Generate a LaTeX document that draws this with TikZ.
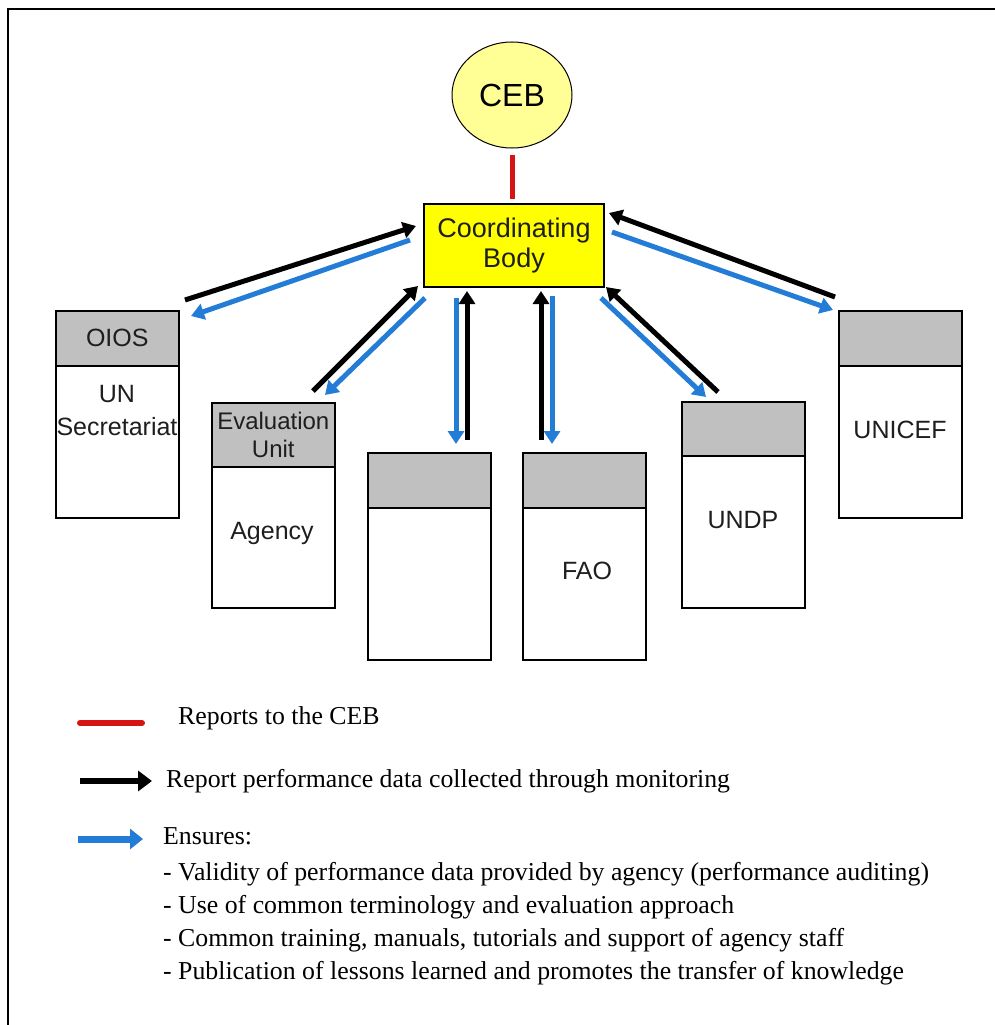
\documentclass[tikz,border=0pt]{standalone}
\usepackage{fontspec}
\setmainfont{Liberation Serif}
\newfontfamily\arial{Liberation Sans}
\usetikzlibrary{arrows.meta,shapes.geometric}
\definecolor{cbyellow}{RGB}{255,255,0}
\definecolor{cebyellow}{RGB}{255,255,150}
\definecolor{hdrgray}{RGB}{192,192,192}
\definecolor{arrblue}{RGB}{35,125,215}
\definecolor{redline}{RGB}{215,20,20}
\definecolor{lbl}{RGB}{30,30,30}
\tikzset{
  hdr/.style={draw=black, line width=1.6pt, fill=hdrgray, rectangle, anchor=north west, inner sep=0pt, minimum width=123pt, text=lbl, align=center, font=\arial\fontsize{25}{28}\selectfont},
  bodybox/.style={draw=black, line width=1.6pt, fill=white, rectangle, anchor=north west, inner sep=0pt, minimum width=123pt},
  lab/.style={text=lbl, align=center, inner sep=0pt, font=\arial\fontsize{25}{33}\selectfont},
  blk/.style={draw=black, line width=5pt, -{Triangle[length=13pt,width=16pt]}},
  blu/.style={draw=arrblue, line width=5pt, -{Triangle[length=13pt,width=16pt]}},
  legtext/.style={anchor=west, inner sep=0pt, font=\fontsize{25.8}{31}\selectfont},
}
\begin{document}
\begin{tikzpicture}[x=1pt,y=-1pt]
\useasboundingbox (0,0) rectangle (995,1025);
\coordinate (fr1) at (8,1025);
\coordinate (fr2) at (8,9);
\coordinate (fr3) at (995,9);
\draw[line width=1.5pt] (fr1) -- (fr2) -- (fr3);

% CEB and coordinating body
\node[ellipse, draw=black, line width=1pt, fill=cebyellow, minimum width=120pt, minimum height=106pt, inner sep=0pt, font=\arial\fontsize{32}{36}\selectfont] (ceb) at (512,95) {CEB};
\node[rectangle, draw=black, line width=1.5pt, fill=cbyellow, minimum width=180pt, minimum height=83pt, inner sep=0pt, align=center, text=lbl, font=\arial\fontsize{27}{30}\selectfont] (cb) at (514,245.5) {Coordinating\\Body};
\coordinate (r1) at (512,155);
\coordinate (r2) at (512,199);
\draw[redline, line width=5pt] (r1) -- (r2);

% agency boxes
\node[hdr, minimum height=55pt] (h1) at (55,310) {OIOS};
\node[bodybox, minimum height=152pt] (b1) at (55,365) {};
\node[lab] (t1) at (117,411) {UN\\Secretariat};

\node[hdr, minimum height=64pt, font=\arial\fontsize{24}{28}\selectfont] (h2) at (211,402) {Evaluation\\Unit};
\node[bodybox, minimum height=141pt] (b2) at (211,466) {};
\node[lab] (t2) at (272,533) {Agency};

\node[hdr, minimum height=55pt] (h3) at (367,452) {};
\node[bodybox, minimum height=152pt] (b3) at (367,507) {};

\node[hdr, minimum height=55pt] (h4) at (522,452) {};
\node[bodybox, minimum height=152pt] (b4) at (522,507) {};
\node[lab] (t4) at (587,571) {FAO};

\node[hdr, minimum height=54pt] (h5) at (681,401) {};
\node[bodybox, minimum height=152pt] (b5) at (681,455) {};
\node[lab] (t5) at (743,520) {UNDP};

\node[hdr, minimum height=55pt] (h6) at (838,310) {};
\node[bodybox, minimum height=152pt] (b6) at (838,365) {};
\node[lab] (t6) at (900,430) {UNICEF};

% arrow end points
\coordinate (a1s) at (185,300); \coordinate (a1e) at (416,226);
\coordinate (a1bs) at (410,240); \coordinate (a1be) at (191,316);
\coordinate (a2s) at (313,391); \coordinate (a2e) at (418,286);
\coordinate (a2bs) at (425,298); \coordinate (a2be) at (325,395);
\coordinate (a3bs) at (456,298); \coordinate (a3be) at (456,444);
\coordinate (a3s) at (467,440); \coordinate (a3e) at (467,291);
\coordinate (a4s) at (541,440); \coordinate (a4e) at (541,291);
\coordinate (a4bs) at (552,296); \coordinate (a4be) at (552,444);
\coordinate (a5bs) at (601,298); \coordinate (a5be) at (706,397);
\coordinate (a5s) at (718,392); \coordinate (a5e) at (606,287);
\coordinate (a6s) at (835,297); \coordinate (a6e) at (609,213);
\coordinate (a6bs) at (612,232); \coordinate (a6be) at (833,310);

\draw[blk] (a1s) -- (a1e);
\draw[blu] (a1bs) -- (a1be);
\draw[blk] (a2s) -- (a2e);
\draw[blu] (a2bs) -- (a2be);
\draw[blu] (a3bs) -- (a3be);
\draw[blk] (a3s) -- (a3e);
\draw[blk] (a4s) -- (a4e);
\draw[blu] (a4bs) -- (a4be);
\draw[blu] (a5bs) -- (a5be);
\draw[blk] (a5s) -- (a5e);
\draw[blk] (a6s) -- (a6e);
\draw[blu] (a6bs) -- (a6be);

% legend
\coordinate (l1s) at (80,723); \coordinate (l1e) at (142,723);
\draw[redline, line width=6pt, line cap=round] (l1s) -- (l1e);
\node[legtext] (lt1) at (178,718) {Reports to the CEB};

\coordinate (l2s) at (80,781); \coordinate (l2e) at (152,781);
\draw[draw=black, line width=6pt, -{Triangle[length=14pt,width=20pt]}] (l2s) -- (l2e);
\node[legtext] (lt2) at (166,781) {Report performance data collected through monitoring};

\coordinate (l3s) at (78,839); \coordinate (l3e) at (143,839);
\draw[draw=arrblue, line width=7pt, -{Triangle[length=13pt,width=20pt]}] (l3s) -- (l3e);
\node[legtext] (lt3) at (163,836) {Ensures:};
\node[legtext] (lt4) at (163,874) {- Validity of performance data provided by agency (performance auditing)};
\node[legtext] (lt5) at (163,907) {- Use of common terminology and evaluation approach};
\node[legtext] (lt6) at (163,940) {- Common training, manuals, tutorials and support of agency staff};
\node[legtext] (lt7) at (163,973) {- Publication of lessons learned and promotes the transfer of knowledge};
\end{tikzpicture}
\end{document}
